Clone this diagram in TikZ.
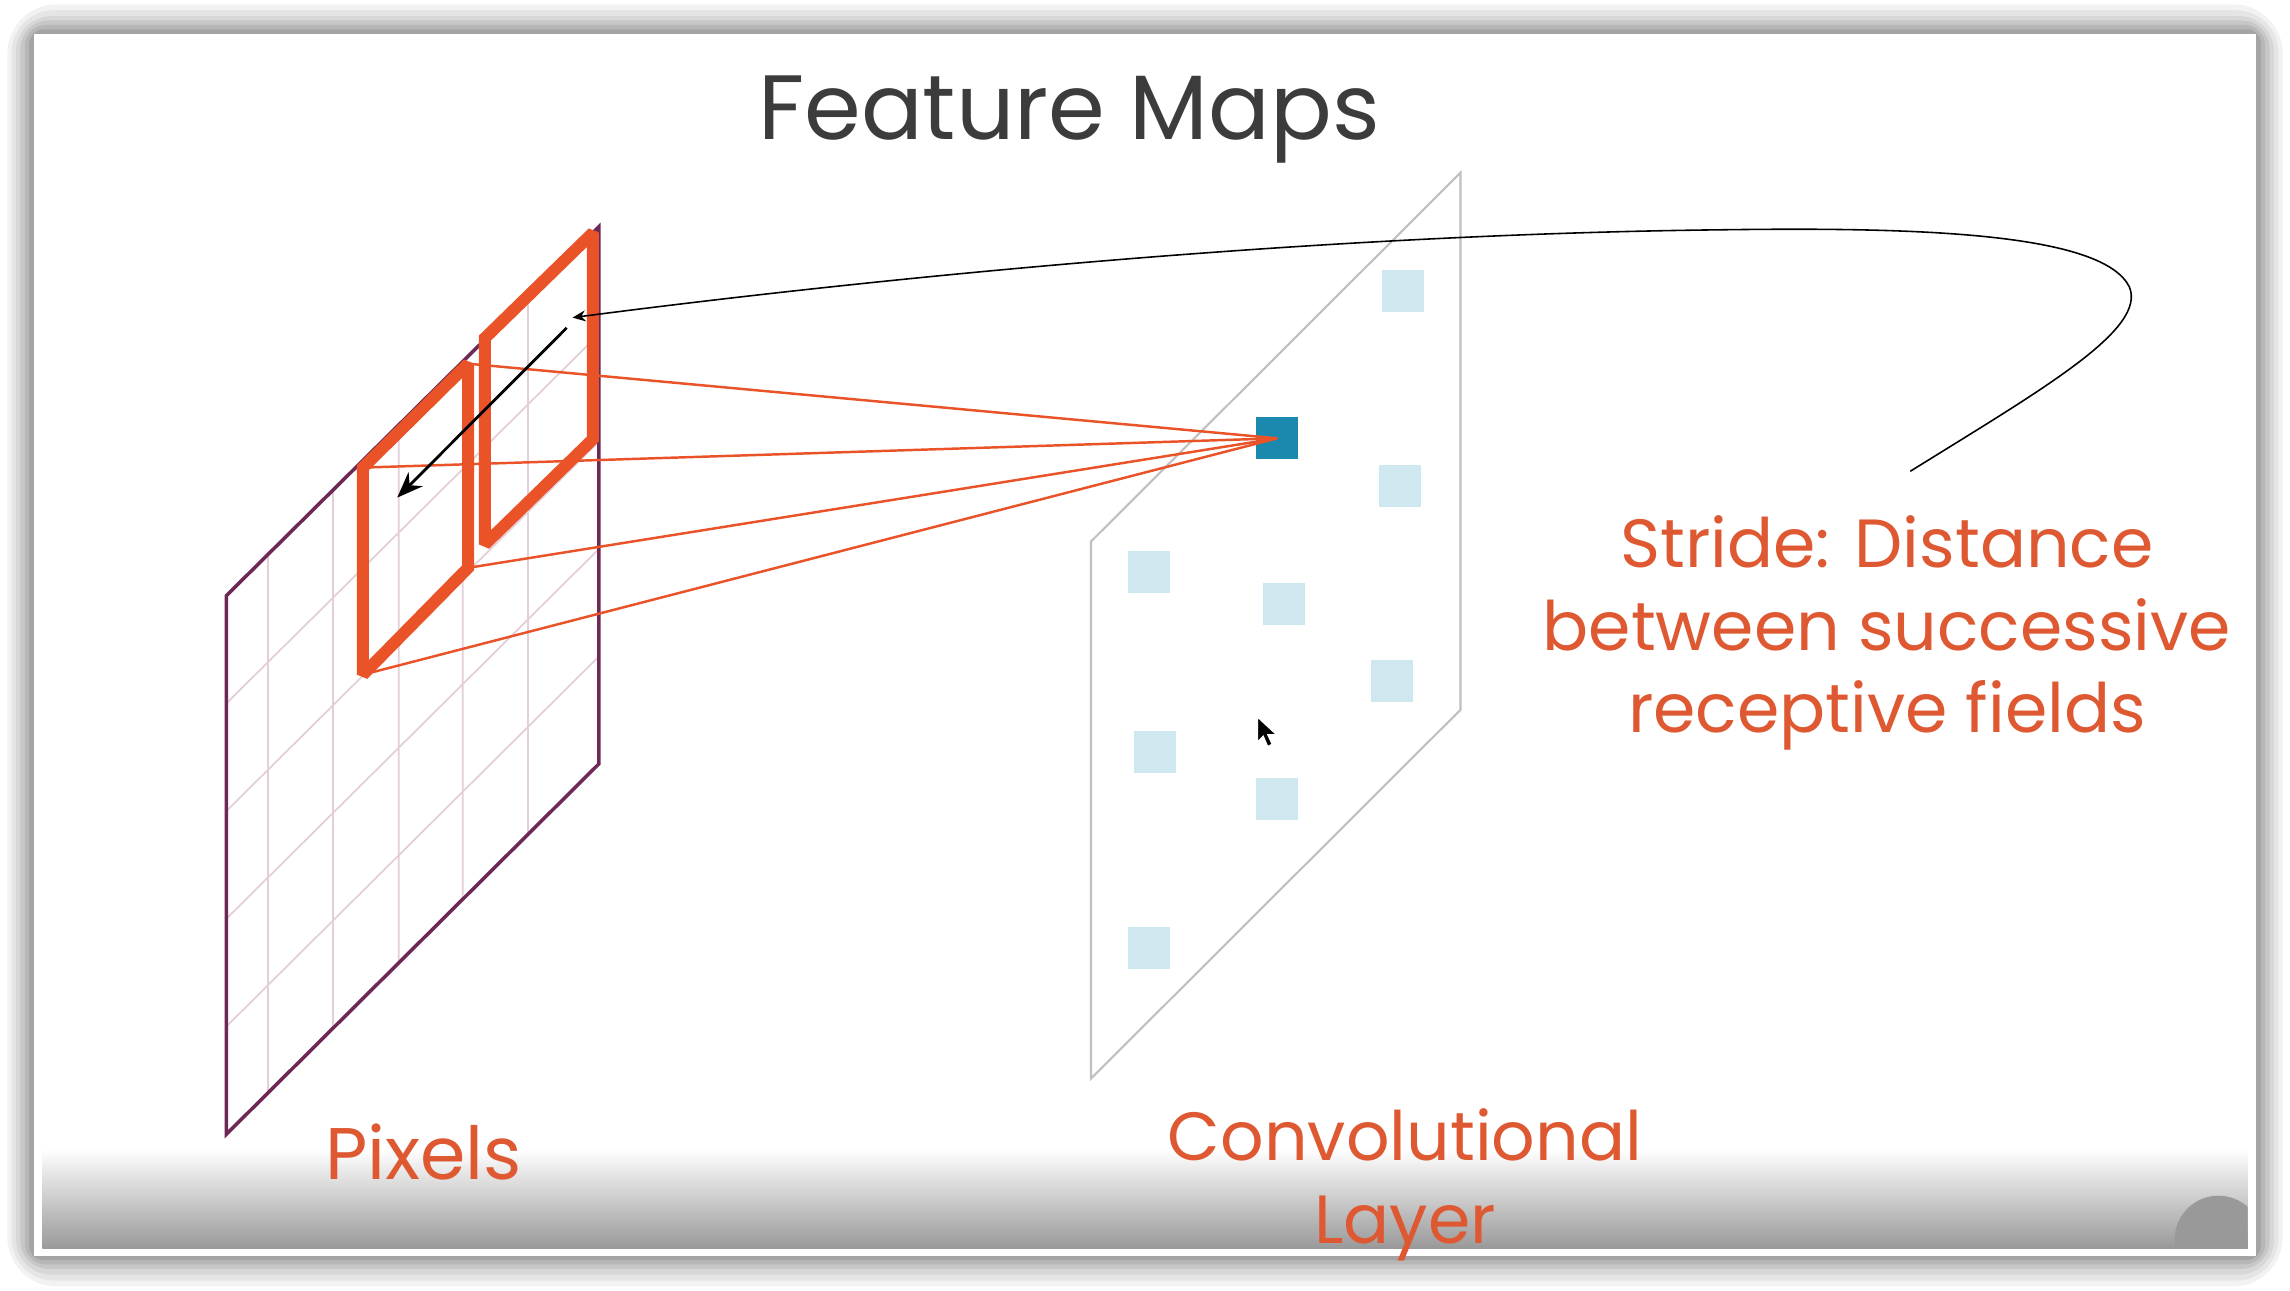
\documentclass[tikz,border=0pt]{standalone}
\usepackage{fontspec}
\setmainfont{Poppins}
\usetikzlibrary{calc,arrows.meta}
\definecolor{slideorange}{RGB}{222,88,50}
\definecolor{fieldorange}{RGB}{234,82,40}
\definecolor{gridpurple}{RGB}{110,40,85}
\definecolor{gridpink}{RGB}{228,206,218}
\definecolor{planegray}{RGB}{192,192,192}
\definecolor{celllight}{RGB}{207,232,239}
\definecolor{celldark}{RGB}{27,137,173}
\definecolor{titlegray}{RGB}{60,60,60}
\newcommand{\tikzCellNode}[2]{
  \node[cell] (#1) at (#2) {};
}

\begin{document}
\begin{tikzpicture}[x=0.014605cm, y=-0.014626cm,
  cell/.style={fill=celllight, inner sep=0pt, minimum size=0.42cm},
  field/.style={draw=fieldorange, line width=3.4pt, line join=miter, miter limit=1.5},
  ray/.style={draw=fieldorange, line width=0.7pt},
  labeltext/.style={text=slideorange, font=\fontsize{19.4pt}{23.5pt}\selectfont, align=center, inner sep=0pt}]

  % slide with its shadow
  \useasboundingbox (0,0) rectangle (1568,882);
  \fill[white] (0,0) rectangle (1568,882);
  \fill[black, opacity=0.05, rounded corners=14] (5,3) rectangle (1563,879);
  \fill[black, opacity=0.05, rounded corners=12] (8,7) rectangle (1560,875);
  \fill[black, opacity=0.06, rounded corners=10] (11,11) rectangle (1557,871);
  \fill[black, opacity=0.07, rounded corners=8] (14,14) rectangle (1554,867);
  \fill[black, opacity=0.08, rounded corners=6] (17,17) rectangle (1551,864);
  \fill[black, opacity=0.10, rounded corners=4] (20,20) rectangle (1548,861);
  \fill[white] (23,23) rectangle (1545,858);
  \shade[top color=white, bottom color=black!40] (29,785) rectangle (1539,853);
  \begin{scope}
    \clip (29,785) rectangle (1539,853);
    \fill[black!40] (1519,847) circle (30);
  \end{scope}

  % pixel grid
  \coordinate (gTL) at (155,407);
  \coordinate (gTR) at (410,155);
  \coordinate (gBR) at (410,522);
  \coordinate (gBL) at (155,775);
  \draw[gridpink, line width=0.5pt]
    ($(gTL)!0.112!(gTR)$) -- ($(gBL)!0.112!(gBR)$)
    ($(gTL)!0.286!(gTR)$) -- ($(gBL)!0.286!(gBR)$)
    ($(gTL)!0.463!(gTR)$) -- ($(gBL)!0.463!(gBR)$)
    ($(gTL)!0.635!(gTR)$) -- ($(gBL)!0.635!(gBR)$)
    ($(gTL)!0.810!(gTR)$) -- ($(gBL)!0.810!(gBR)$)
    ($(gTL)!0.2!(gBL)$) -- ($(gTR)!0.2!(gBR)$)
    ($(gTL)!0.4!(gBL)$) -- ($(gTR)!0.4!(gBR)$)
    ($(gTL)!0.6!(gBL)$) -- ($(gTR)!0.6!(gBR)$)
    ($(gTL)!0.8!(gBL)$) -- ($(gTR)!0.8!(gBR)$);
  \draw[gridpurple, line width=1pt] (gTL) -- (gTR) -- (gBR) -- (gBL) -- cycle;

  % convolutional layer
  \coordinate (cTL) at (747,370);
  \coordinate (cTR) at (1000,118);
  \coordinate (cBR) at (1000,485);
  \coordinate (cBL) at (747,737);
  \draw[planegray, line width=0.6pt] (cTL) -- (cTR) -- (cBR) -- (cBL) -- cycle;

  \tikzCellNode{c1}{960.5,198.5}
  \tikzCellNode{c2}{958.5,332}
  \tikzCellNode{c3}{786.5,390.5}
  \tikzCellNode{c4}{879.5,412.5}
  \tikzCellNode{c5}{953,465.5}
  \tikzCellNode{c6}{790.5,513.5}
  \tikzCellNode{c7}{874.5,546}
  \tikzCellNode{c8}{786.5,647.5}
  \node[cell, fill=celldark] (out) at (874.5,299.5) {};

  % receptive fields
  \coordinate (fa1) at (248.5,319.5);
  \coordinate (fa2) at (320.5,248.5);
  \coordinate (fa3) at (320.5,388);
  \coordinate (fa4) at (248.5,461);
  \coordinate (fb1) at (332,231);
  \coordinate (fb2) at (406,159);
  \coordinate (fb3) at (406,300);
  \coordinate (fb4) at (332,372);
  \draw[field] (fb1) -- (fb2) -- (fb3) -- (fb4) -- cycle;
  \draw[field] (fa1) -- (fa2) -- (fa3) -- (fa4) -- cycle;

  \path (fa1) edge[ray] (out.center);
  \path (fa2) edge[ray] (out.center);
  \path (fa3) edge[ray] (out.center);
  \path (fa4) edge[ray] (out.center);

  % stride
  \coordinate (sa) at (388,224);
  \coordinate (sb) at (272,340);
  \draw[-{Stealth[length=2.6mm,width=2mm]}, line width=0.8pt] (sa) -- (sb);

  \coordinate (cs) at (1308,322);
  \coordinate (ce) at (392,217);
  \draw[-{Stealth[length=1.3mm,width=1.1mm]}, line width=0.45pt] (cs)
    .. controls (1400,265) and (1470,225) .. (1458,196)
    .. controls (1440,160) and (1320,155) .. (1180,157)
    .. controls (900,160) and (600,190) .. (ce);

  % texts
  \node[font=\fontsize{26pt}{30pt}\selectfont, text=titlegray, anchor=base, inner sep=0pt] (title) at (732,95) {Feature Maps};
  \node[labeltext, font=\fontsize{20.8pt}{24pt}\selectfont, anchor=base] (pixels) at (290,806) {Pixels};
  \node[labeltext, anchor=north] (conv) at (962,757) {Convolutional\\Layer};
  \node[labeltext, anchor=north] (stride) at (1292,352) {Stride: Distance\\between successive\\receptive fields};

  % mouse pointer
  \fill[black, draw=white, line width=0.3pt] (861,490) -- ++(0,17) -- ++(4,-4) -- ++(3,7) -- ++(3,-1.5) -- ++(-3,-6.5) -- ++(6,0) -- cycle;
\end{tikzpicture}
\end{document}
